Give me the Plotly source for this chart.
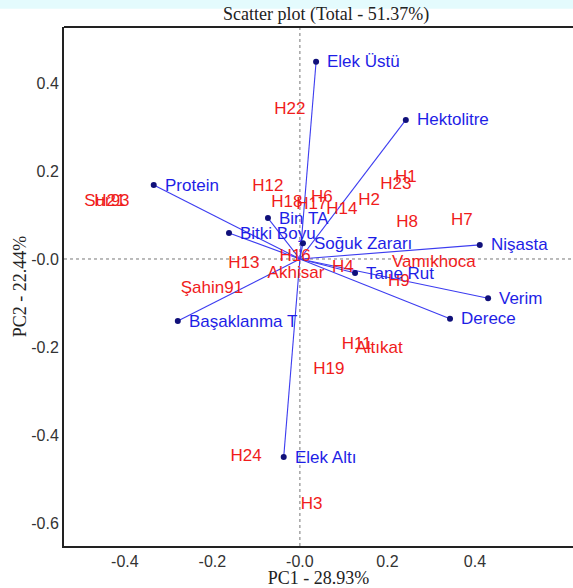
import plotly.graph_objects as go

# Trait loadings (PC1, PC2)
traits = ["Elek Üstü", "Hektolitre", "Protein", "Bitki Boyu", "Bin TA",
          "Soğuk Zararı", "Nişasta", "Tane Rut", "Verim", "Derece",
          "Başaklanma T", "Elek Altı"]
trait_pc1 = [0.037, 0.242, -0.334, -0.162, -0.073, 0.007, 0.411, 0.126,
             0.430, 0.343, -0.279, -0.037]
trait_pc2 = [0.448, 0.316, 0.168, 0.059, 0.093, 0.036, 0.032, -0.032,
             -0.089, -0.136, -0.141, -0.450]

# Genotype scores (PC1, PC2)
genotypes = ["H22", "H1", "H23", "H12", "H18", "H17", "H6", "H14", "H2",
             "H8", "H7", "H16", "H13", "Akhisar", "H4", "Vamıkhoca", "H9",
             "Şahin91", "Sur93", "H21", "H11", "Altıkat", "H19", "H24", "H3"]
geno_pc1 = [-0.023, 0.242, 0.219, -0.073, -0.030, 0.027, 0.050, 0.096, 0.158,
            0.245, 0.370, -0.011, -0.128, -0.009, 0.098, 0.306, 0.226,
            -0.201, -0.441, -0.434, 0.130, 0.181, 0.066, -0.123, 0.027]
geno_pc2 = [0.339, 0.184, 0.168, 0.164, 0.127, 0.123, 0.139, 0.111, 0.132,
            0.082, 0.086, 0.005, -0.011, -0.034, -0.020, -0.009, -0.052,
            -0.068, 0.130, 0.130, -0.195, -0.205, -0.252, -0.450, -0.559]

x_ticks = [-0.4, -0.2, 0.0, 0.2, 0.4, 0.6]
x_tick_text = ["-0.4", "-0.2", "-0.0", "0.2", "0.4", "0.6"]
y_ticks = [-0.6, -0.4, -0.2, 0.0, 0.2, 0.4]
y_tick_text = ["-0.6", "-0.4", "-0.2", "-0.0", "0.2", "0.4"]

x_range = [-0.539, 0.624]
y_range = [-0.652, 0.527]

BLUE_LINE = "#3c3cf0"
BLUE_TEXT = "#1e1ee6"
RED = "#f01c1c"
SANS = "Liberation Sans, Arial, sans-serif"
SERIF = "Liberation Serif, Times New Roman, serif"

fig = go.Figure()

# Loading vectors from the origin
for name, x, y in zip(traits, trait_pc1, trait_pc2):
    fig.add_trace(go.Scatter(x=[0, x], y=[0, y], mode="lines",
                             line=dict(color=BLUE_LINE, width=1.1),
                             hoverinfo="skip", showlegend=False))

fig.add_trace(go.Scatter(
    x=trait_pc1, y=trait_pc2, mode="markers",
    marker=dict(color="#10107a", size=6),
    showlegend=False))

# Trait names to the right of each vector tip
annotations = [
    dict(x=x, y=y, text=name, xref="x", yref="y", showarrow=False,
         xanchor="left", yanchor="middle", xshift=9,
         font=dict(family=SANS, size=17, color=BLUE_TEXT))
    for name, x, y in zip(traits, trait_pc1, trait_pc2)
]

fig.add_trace(go.Scatter(
    x=geno_pc1, y=geno_pc2, mode="text", text=genotypes,
    textposition="middle center",
    textfont=dict(family=SANS, size=17, color=RED),
    showlegend=False))

shapes = [
    # zero reference lines
    dict(type="line", xref="x", yref="paper", x0=0, x1=0, y0=0, y1=1,
         line=dict(color="#777777", width=1, dash="dot"), layer="below"),
    dict(type="line", xref="paper", yref="y", x0=0, x1=1, y0=0, y1=0,
         line=dict(color="#777777", width=1, dash="dot"), layer="below"),
    # top border of the frame
    dict(type="line", xref="paper", yref="paper", x0=0, x1=1, y0=1, y1=1,
         line=dict(color="#222222", width=2)),
    # pale cyan band along the top edge
    dict(type="rect", xref="paper", yref="paper", x0=-0.2, x1=1.0,
         y0=1.035, y1=1.06, line=dict(width=0), fillcolor="#e4fbfd",
         layer="below"),
]

fig.update_layout(
    width=573, height=588,
    margin=dict(l=64, r=0, t=27, b=42),
    paper_bgcolor="white", plot_bgcolor="white",
    title=dict(text="Scatter plot (Total - 51.37%)", x=0.569, xanchor="center",
               y=0.988, yanchor="top",
               font=dict(family=SERIF, size=18, color="#222222")),
    shapes=shapes,
    annotations=annotations,
    xaxis=dict(range=x_range, tickvals=x_ticks, ticktext=x_tick_text,
               showgrid=False, zeroline=False, showline=True,
               linecolor="#222222", linewidth=2, ticks="",
               tickfont=dict(family=SANS, size=16, color="#333333"),
               title=dict(text="PC1 - 28.93%", standoff=3,
                          font=dict(family=SERIF, size=18, color="#222222"))),
    yaxis=dict(range=y_range, tickvals=y_ticks, ticktext=y_tick_text,
               showgrid=False, zeroline=False, showline=True,
               linecolor="#222222", linewidth=2, ticks="",
               tickfont=dict(family=SANS, size=16, color="#333333"),
               title=dict(text="PC2 - 22.44%", standoff=0,
                          font=dict(family=SERIF, size=18, color="#222222"))),
)

fig.write_html("out.html")
